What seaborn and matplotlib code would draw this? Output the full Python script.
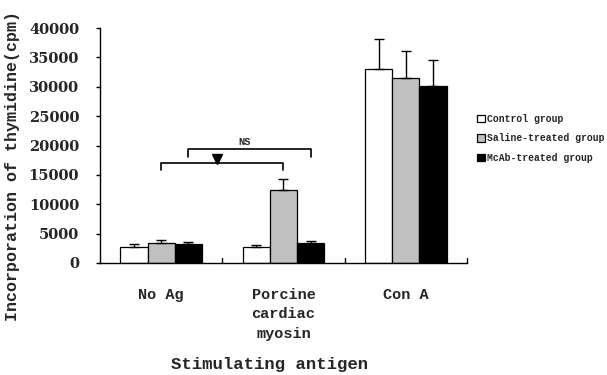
import numpy as np
import pandas as pd
import matplotlib
matplotlib.use("Agg")
import matplotlib.pyplot as plt
import seaborn as sns

categories = ["No Ag", "Porcine\ncardiac\nmyosin", "Con A"]
groups = ["Control group", "Saline-treated group", "McAb-treated group"]
control_vals = [2700, 2700, 33100]
control_err = [500, 400, 5100]
saline_vals = [3400, 12500, 31500]
saline_err = [500, 1800, 4600]
mcab_vals = [3300, 3400, 30100]
mcab_err = [300, 400, 4500]
yticks = [0, 5000, 10000, 15000, 20000, 25000, 30000, 35000, 40000]

rows = []
for g, vals, errs in [(groups[0], control_vals, control_err),
                      (groups[1], saline_vals, saline_err),
                      (groups[2], mcab_vals, mcab_err)]:
    for c, v, e in zip(categories, vals, errs):
        rows.append({"antigen": c, "group": g, "cpm": v, "err": e})
df = pd.DataFrame(rows)

sns.set_style("white")
mono = ["Liberation Mono", "DejaVu Sans Mono"]
serif = ["DejaVu Serif", "Liberation Serif"]

fig = plt.figure(figsize=(6.07, 3.75), dpi=100)
ax = fig.add_axes([100/607, 1-263/375, 367/607, (263-28)/375])

palette = {groups[0]: "white", groups[1]: "#c0c0c0", groups[2]: "black"}
sns.barplot(data=df, x="antigen", y="cpm", hue="group", hue_order=groups,
            order=categories, palette=palette, width=0.67, edgecolor="black",
            linewidth=0.9, errorbar=None, ax=ax, legend=True, saturation=1)

# error bars (upper only) from bar positions
bars = [p for p in ax.patches if p.get_height() > 0]
for gi, g in enumerate(groups):
    sub = df[df.group == g]
    gbars = bars[gi*3:(gi+1)*3]
    xs = [b.get_x() + b.get_width()/2 for b in gbars]
    hs = [b.get_height() for b in gbars]
    ax.errorbar(xs, hs, yerr=[np.zeros(3), sub["err"].values], fmt="none",
                ecolor="black", elinewidth=1, capsize=3.5, capthick=1, zorder=1)

ax.set_ylim(0, 40000)
ax.set_xlim(-0.5, 2.5)
ax.set_yticks(yticks)
ax.set_yticklabels([str(t) for t in yticks], fontfamily=serif, fontweight="bold", fontsize=10.5)
ax.set_xticks([0, 1, 2])
ax.set_xticklabels(categories, fontfamily=mono, fontweight="bold", fontsize=11, linespacing=1.5,
                   va="top")
ax.tick_params(axis="x", length=0, pad=18)
ax.tick_params(axis="y", direction="out", length=3, width=1, color="black", left=True, pad=12)
for x0 in [0.5, 1.5, 2.5]:
    ax.plot([x0, x0], [0, 900], color="black", lw=1, clip_on=False)

sns.despine(ax=ax)
for s in ["left", "bottom"]:
    ax.spines[s].set_color("black")
    ax.spines[s].set_linewidth(1)

ax.set_xlabel("Stimulating antigen", fontfamily=mono, fontweight="bold", fontsize=12.5, labelpad=0)
ax.xaxis.set_label_coords((270-100)/367, -(357-263)/235)
ax.set_ylabel("Incorporation of thymidine(cpm)", fontfamily=mono, fontweight="bold", fontsize=12)
ax.yaxis.set_label_coords((20-100)/367, (263-166)/235)

# significance brackets
bw = 0.67/3
lo_y, lo_leg = 17000, 15800
ax.plot([0, 0, 1, 1], [lo_leg, lo_y, lo_y, lo_leg], color="black", lw=1.2)
hi_y, hi_leg = 19400, 18000
ax.plot([bw, bw, 1+bw, 1+bw], [hi_leg, hi_y, hi_y, hi_leg], color="black", lw=1.2)
ax.plot([0.46], [lo_y + 700], marker="v", color="black", markersize=7, linestyle="none")
ax.text(0.68, hi_y + 400, "NS", ha="center", va="bottom", fontfamily=mono,
        fontweight="bold", fontsize=7.5)

leg = ax.legend(loc="upper left", bbox_to_anchor=(1.016, 0.65), frameon=False,
                prop={"family": mono, "weight": "bold", "size": 7.0},
                handlelength=0.8, handleheight=0.8, handletextpad=0.25,
                labelspacing=0.95, borderaxespad=0)
ax.set_title("")
fig.savefig("out.png", dpi=100)
